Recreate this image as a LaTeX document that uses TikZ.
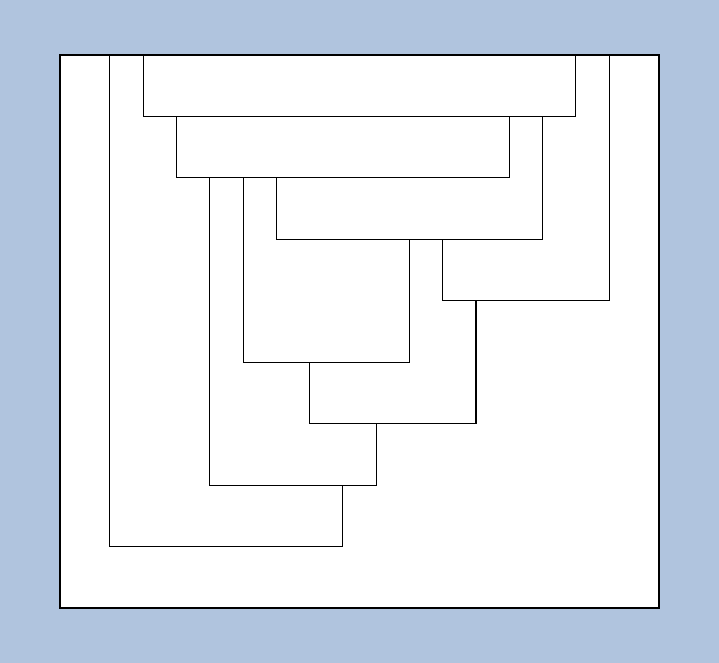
\documentclass[tikz,border=0pt]{standalone}
\usepackage{tikz}
\definecolor{SplitBackdrop}{HTML}{B0C4DE}
\definecolor{SplitLine}{HTML}{000000}

\begin{document}
\begin{tikzpicture}[bracket/.style={draw=SplitLine,line width=0.6pt}]
      \fill[SplitBackdrop] (0,0) rectangle (14.38,13.26);
      \draw[bracket,fill=white] (1.2,1.1) rectangle (13.18,12.16);
      \begin{scope}[shift={(1.2,12.16)},x=0.6656cm,y=-1.2289cm]
        \foreach \xl/\yl/\yb/\xr/\yr in {1.5/0/8/8.5/7, 2.5/0/1/15.5/0, 3.5/1/2/13.5/1, 4.5/2/7/9.5/6,
            5.5/2/5/10.5/3, 6.5/2/3/14.5/1, 11.5/3/4/16.5/0, 7.5/5/6/12.5/4}
          \draw[bracket] (\xl,\yl) |- (\xr,\yb) -- (\xr,\yr);
      \end{scope}
    \end{tikzpicture}
\end{document}
